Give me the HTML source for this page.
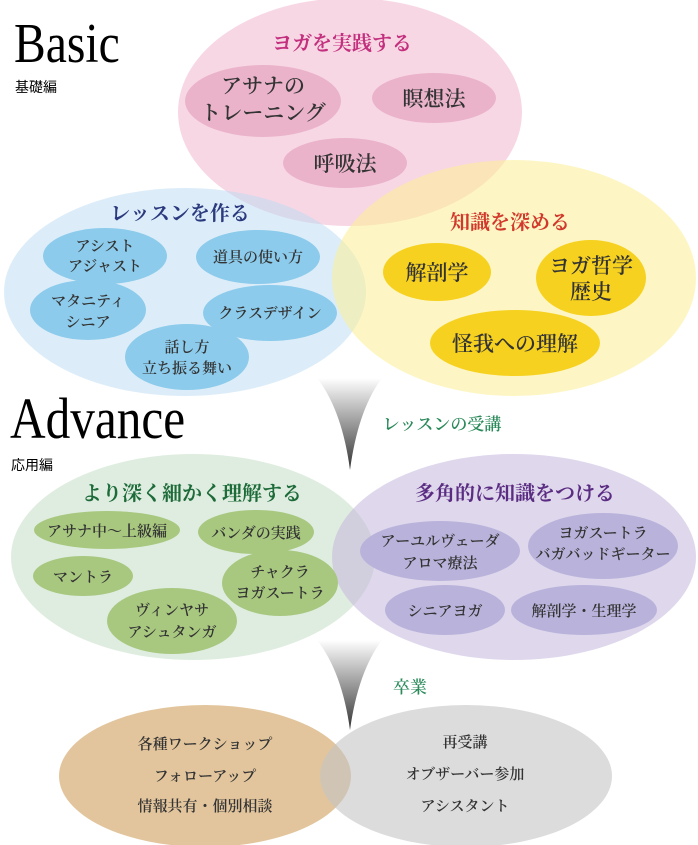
<!DOCTYPE html>
<html><head><meta charset="utf-8"><style>
html,body{margin:0;padding:0;background:#fff;}
svg{display:block;}
text{font-family:"Liberation Serif","Noto Serif CJK JP","Noto Serif CJK SC",serif;text-anchor:middle;font-weight:600;}
.t{font-weight:bold;}
.g{font-family:"Liberation Sans","Noto Sans CJK JP",sans-serif;text-anchor:start;font-weight:normal;}
.h{font-family:"Liberation Serif",serif;text-anchor:start;font-weight:normal;}
</style></head><body>
<svg width="698" height="845" viewBox="0 0 698 845" xmlns="http://www.w3.org/2000/svg">
<defs>
<linearGradient id="fg" x1="0" y1="0" x2="0" y2="1">
<stop offset="0" stop-color="#ffffff"/><stop offset="1" stop-color="#333"/>
</linearGradient>
</defs>
<ellipse cx="350" cy="112" rx="172" ry="114" fill="#f3b6d0" opacity="0.55"/>
<ellipse cx="185" cy="292" rx="181" ry="104" fill="#b9dcf3" opacity="0.5"/>
<ellipse cx="514" cy="278" rx="182" ry="118" fill="#fcee94" opacity="0.55"/>
<g fill="#eab3ca">
<ellipse cx="263" cy="101" rx="78" ry="36"/>
<ellipse cx="434" cy="98" rx="62" ry="25"/>
<ellipse cx="345" cy="163" rx="62" ry="25"/>
</g>
<g fill="#8ccbeb">
<ellipse cx="105" cy="256" rx="62" ry="28"/>
<ellipse cx="258" cy="257" rx="62" ry="27"/>
<ellipse cx="88" cy="310" rx="58" ry="30"/>
<ellipse cx="270" cy="313" rx="67" ry="28"/>
<ellipse cx="187" cy="357" rx="62" ry="33"/>
</g>
<g fill="#f6d11f">
<ellipse cx="437" cy="272" rx="54" ry="29"/>
<ellipse cx="591" cy="278" rx="55" ry="38"/>
<ellipse cx="515" cy="343" rx="85" ry="33"/>
</g>
<text class="t" x="342" y="50" font-size="20" fill="#c3307e">ヨガを実践する</text>
<text x="263" y="93" font-size="21" fill="#333">アサナの</text>
<text x="263" y="120" font-size="21" fill="#333">トレーニング</text>
<text x="434" y="106" font-size="21" fill="#333">瞑想法</text>
<text x="345" y="171" font-size="21" fill="#333">呼吸法</text>
<text class="t" x="180" y="220" font-size="20" fill="#2b3a7e">レッスンを作る</text>
<text x="105" y="251" font-size="15" fill="#333">アシスト</text>
<text x="105" y="271" font-size="15" fill="#333">アジャスト</text>
<text x="258" y="262" font-size="15" fill="#333">道具の使い方</text>
<text x="88" y="306" font-size="15" fill="#333">マタニティ</text>
<text x="88" y="327" font-size="15" fill="#333">シニア</text>
<text x="270" y="318" font-size="15" fill="#333">クラスデザイン</text>
<text x="187" y="352" font-size="15" fill="#333">話し方</text>
<text x="187" y="373" font-size="15" fill="#333">立ち振る舞い</text>
<text class="t" x="510" y="229" font-size="20" fill="#d0392b">知識を深める</text>
<text x="437" y="280" font-size="21" fill="#333">解剖学</text>
<text x="591" y="273" font-size="21" fill="#333">ヨガ哲学</text>
<text x="591" y="299" font-size="21" fill="#333">歴史</text>
<text x="515" y="351" font-size="21" fill="#333">怪我への理解</text>
<text class="h" x="0" y="0" transform="translate(14,62) scale(0.85,1)" font-size="56" fill="#000">Basic</text>
<text class="g" x="15" y="92" font-size="14" fill="#000">基礎編</text>
<text class="h" x="0" y="0" transform="translate(10,438) scale(0.85,1)" font-size="58" fill="#000">Advance</text>
<text class="g" x="11" y="470" font-size="14" fill="#000">応用編</text>
<path d="M317 378 L382 378 Q358 410 350 470 Q342 410 317 378 Z" fill="url(#fg)"/>
<path d="M317 640 L382 640 Q358 672 350 730 Q342 672 317 640 Z" fill="url(#fg)"/>
<text x="442" y="430" font-size="17" fill="#2a8a5a">レッスンの受講</text>
<text x="410" y="693" font-size="17" fill="#2a8a5a">卒業</text>
<ellipse cx="193" cy="557" rx="182" ry="103" fill="#c5dfc6" opacity="0.55"/>
<ellipse cx="514" cy="557" rx="182" ry="103" fill="#c4b6dc" opacity="0.55"/>
<g fill="#a8c880">
<ellipse cx="107" cy="530" rx="73" ry="19"/>
<ellipse cx="256" cy="532" rx="58" ry="22"/>
<ellipse cx="83" cy="576" rx="50" ry="20"/>
<ellipse cx="280" cy="583" rx="58" ry="33"/>
<ellipse cx="172" cy="621" rx="65" ry="33"/>
</g>
<g fill="#b9b3db">
<ellipse cx="440" cy="551" rx="80" ry="30"/>
<ellipse cx="603" cy="546" rx="75" ry="33"/>
<ellipse cx="445" cy="610" rx="60" ry="25"/>
<ellipse cx="584" cy="610" rx="73" ry="25"/>
</g>
<text class="t" x="192" y="500" font-size="20" fill="#1e6b3a">より深く細かく理解する</text>
<text class="t" x="515" y="500" font-size="20" fill="#5a2c82">多角的に知識をつける</text>
<text x="107" y="536" font-size="15" fill="#333">アサナ中〜上級編</text>
<text x="256" y="538" font-size="15" fill="#333">バンダの実践</text>
<text x="83" y="582" font-size="15" fill="#333">マントラ</text>
<text x="280" y="577" font-size="15" fill="#333">チャクラ</text>
<text x="280" y="598" font-size="15" fill="#333">ヨガスートラ</text>
<text x="172" y="615" font-size="15" fill="#333">ヴィンヤサ</text>
<text x="172" y="637" font-size="15" fill="#333">アシュタンガ</text>
<text x="440" y="546" font-size="15" fill="#333">アーユルヴェーダ</text>
<text x="440" y="568" font-size="15" fill="#333">アロマ療法</text>
<text x="603" y="538" font-size="15" fill="#333">ヨガスートラ</text>
<text x="603" y="559" font-size="15" fill="#333">バガバッドギーター</text>
<text x="445" y="616" font-size="15" fill="#333">シニアヨガ</text>
<text x="584" y="616" font-size="15" fill="#333">解剖学・生理学</text>
<ellipse cx="205" cy="776" rx="146" ry="71" fill="#d6ad72" opacity="0.7"/>
<ellipse cx="466" cy="776" rx="146" ry="71" fill="#c4c4c4" opacity="0.6"/>
<text x="205" y="749" font-size="15" fill="#333">各種ワークショップ</text>
<text x="205" y="781" font-size="15" fill="#333">フォローアップ</text>
<text x="205" y="811" font-size="15" fill="#333">情報共有・個別相談</text>
<text x="465" y="747" font-size="15" fill="#333">再受講</text>
<text x="465" y="779" font-size="15" fill="#333">オブザーバー参加</text>
<text x="465" y="811" font-size="15" fill="#333">アシスタント</text>
</svg>
</body></html>
